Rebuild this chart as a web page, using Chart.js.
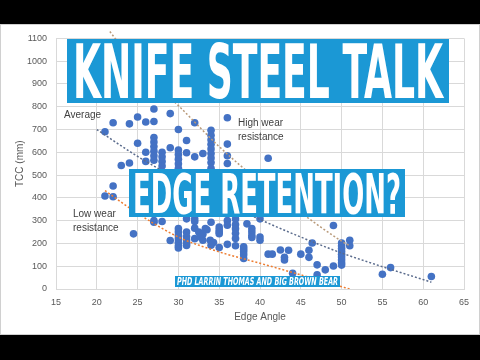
<!DOCTYPE html>
<html>
<head>
<meta charset="utf-8">
<script src="https://cdn.jsdelivr.net/npm/chart.js@4/dist/chart.umd.min.js"></script>
<style>
  html, body { margin: 0; padding: 0; background: #000; }
  #wrap { position: absolute; left: 0; top: 24px; width: 480px; height: 311px; background: #fff; }
</style>
</head>
<body>
<div id="wrap"><canvas id="chart"></canvas></div>
<script>
// Edge angle (degrees) and TCC (mm) for each steel test
const edgeAngles = [
  21, 22, 24, 25, 26, 27, 27, 29, 30, 32, 36,
  25, 26, 26, 23, 24,
  27, 27, 27, 27, 27, 27,
  28, 28, 28, 28, 29,
  30, 30, 30, 30, 30,
  31, 31, 33, 32,
  34, 34, 34, 34, 34, 34, 34, 34, 34,
  36, 36, 36, 41,
  21, 22, 22, 24.5, 27, 27, 28, 29,
  30, 30, 30, 30, 30, 30, 30,
  31, 31, 31, 31, 31, 31,
  32, 32, 32, 32,
  32.5, 32.7, 33, 33, 33.3, 33.5, 33.9, 34.3, 34, 34,
  35, 35, 35, 35, 35,
  36, 36, 36,
  37, 37, 37, 37, 37, 37,
  38, 38, 38, 38, 38,
  38.4, 39, 39, 39, 39, 40, 40, 40,
  41, 41.5, 42.5, 43, 43, 43.5, 44, 45, 46, 46, 46.4, 47, 47, 48, 49, 49,
  50, 50, 50, 50, 50, 50, 50, 50, 50,
  51, 51, 55, 56, 61
];
const tccValues = [
  690, 730, 725, 755, 733, 735, 790, 770, 700, 730, 752,
  640, 600, 560, 542, 553,
  665, 645, 625, 605, 585, 565,
  600, 580, 560, 540, 620,
  610, 590, 570, 550, 530,
  652, 598, 595, 580,
  697, 675, 655, 635, 615, 595, 575, 555, 530,
  636, 585, 551, 574,
  408, 452, 405, 242, 293, 300, 296, 213,
  265, 250, 235, 220, 205, 190, 180,
  308, 250, 230, 215, 200, 191,
  308, 296, 267, 221,
  250, 228, 214, 240, 265, 260, 214, 204, 192, 293,
  272, 260, 250, 243, 182,
  300, 196, 280,
  307, 283, 265, 245, 222, 190,
  185, 175, 163, 150, 134,
  286, 265, 250, 235, 226, 308, 228, 214,
  153, 153, 171, 139, 127, 170, 69, 153, 170, 139, 202, 106, 62, 84, 279, 101,
  202, 190, 178, 165, 152, 140, 128, 115, 105,
  214, 190, 65, 94, 55
];

// Trend curves
const averageX = [20, 25, 30, 35, 40, 45, 50, 55, 61];
const averageY = [700, 582, 480, 390, 305, 228, 158, 98, 30];
const lowWearX = [21, 25, 30, 35, 40, 45, 49, 51];
const lowWearY = [432, 332, 228, 163, 113, 62, 20, 0];
const highWearX = [21.6, 25, 30, 35, 40, 45, 50, 51];
const highWearY = [1130, 975, 805, 625, 470, 335, 210, 190];

const toPoints = (xs, ys) => xs.map((x, i) => ({x: x, y: ys[i]}));

const trend = (xs, ys, color, clip) => ({
  data: toPoints(xs, ys),
  showLine: true,
  borderColor: color,
  borderWidth: 1.5,
  borderDash: [2, 2],
  pointRadius: 0,
  cubicInterpolationMode: "monotone",
  clip: clip
});

const bannerFont = "'DejaVu Sans Condensed', 'DejaVu Sans', sans-serif";

// Blue title strips and annotations laid over the chart
function drawBanner(ctx, x, y, w, h, text, font, size, pad) {
  ctx.fillStyle = "#1b98d5";
  ctx.fillRect(x, y, w, h);
  ctx.font = font;
  ctx.fillStyle = "#fff";
  ctx.textBaseline = "alphabetic";
  ctx.textAlign = "left";
  const tw = ctx.measureText(text).width;
  ctx.save();
  ctx.translate(x + pad, y + h / 2 + size * 0.365);
  ctx.scale((w - pad * 2) / tw, 1);
  ctx.fillText(text, 0, 0);
  ctx.restore();
}

const overlayPlugin = {
  id: "overlay",
  afterDraw(chart) {
    const ctx = chart.ctx;
    ctx.save();
    ctx.fillStyle = "#404040";
    ctx.font = "10px 'Liberation Sans'";
    ctx.textBaseline = "middle";
    ctx.textAlign = "left";
    ctx.fillText("Average", 64, 91);
    ctx.fillText("High wear", 238, 99);
    ctx.fillText("resistance", 238, 113);
    ctx.fillText("Low wear", 73, 190);
    ctx.fillText("resistance", 73, 204);

    drawBanner(ctx, 67, 15, 382, 64, "KNIFE STEEL TALK", "bold 75px " + bannerFont, 75, 6);
    drawBanner(ctx, 129, 145, 276, 48, "EDGE RETENTION?", "bold 55px " + bannerFont, 55, 4);
    drawBanner(ctx, 175, 252, 165, 11, "PHD LARRIN THOMAS AND BIG BROWN BEAR", "italic bold 10px " + bannerFont, 10, 2);

    ctx.strokeStyle = "#d0d0d0";
    ctx.lineWidth = 1;
    ctx.strokeRect(0.5, 0.5, chart.width - 1, chart.height - 1);
    ctx.restore();
  }
};

new Chart(document.getElementById("chart"), {
  type: "scatter",
  data: {
    datasets: [
      trend(averageX, averageY, "#5a6b8c", true),
      trend(lowWearX, lowWearY, "#ed7d31", true),
      trend(highWearX, highWearY, "#b99a7a", false),
      {
        data: toPoints(edgeAngles, tccValues),
        backgroundColor: "#4472c4",
        borderWidth: 0,
        pointRadius: 3.8
      }
    ]
  },
  options: {
    responsive: true,
    maintainAspectRatio: false,
    animation: false,
    layout: { padding: { top: 11, right: 16, bottom: 0, left: 0 } },
    plugins: { legend: { display: false }, tooltip: { enabled: false } },
    scales: {
      x: {
        min: 15, max: 65,
        ticks: { stepSize: 5, padding: 8, color: "#595959", font: { family: "Liberation Sans", size: 9 } },
        grid: { color: "#d9d9d9", drawTicks: false },
        border: { color: "#d9d9d9" },
        title: { display: true, text: "Edge Angle", color: "#595959", padding: { bottom: 12 }, font: { family: "Liberation Sans", size: 10 } },
        afterFit: s => { s.height = 46; }
      },
      y: {
        min: 0, max: 1100,
        ticks: { stepSize: 100, padding: 9, color: "#595959", font: { family: "Liberation Sans", size: 9 }, callback: v => String(v) },
        grid: { color: "#d9d9d9", drawTicks: false },
        border: { color: "#d9d9d9" },
        title: { display: true, text: "TCC (mm)", color: "#595959", padding: { top: 14 }, font: { family: "Liberation Sans", size: 10 } },
        afterFit: s => { s.width = 56; }
      }
    }
  },
  plugins: [overlayPlugin]
});
</script>
</body>
</html>
